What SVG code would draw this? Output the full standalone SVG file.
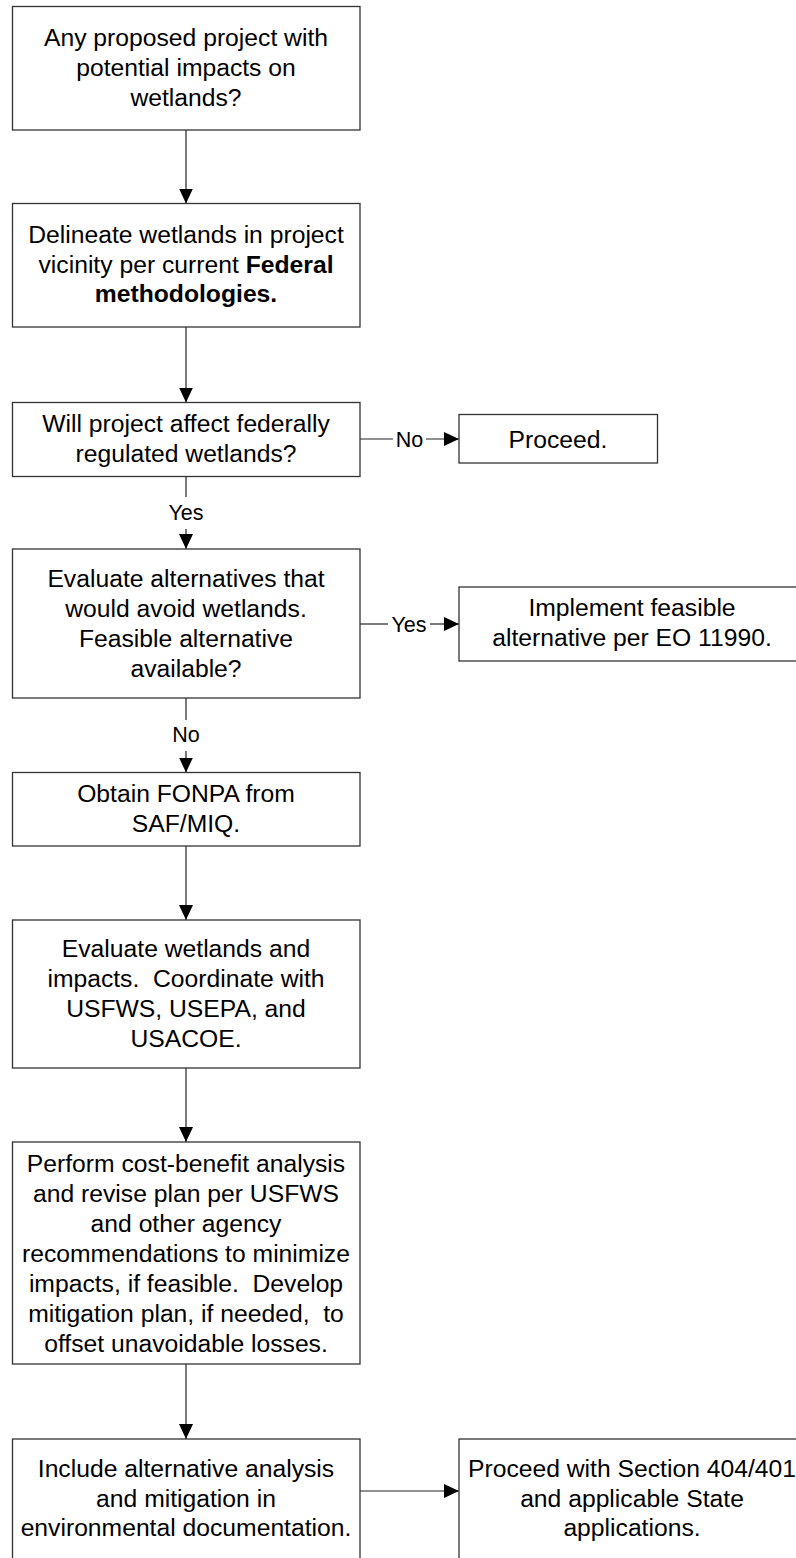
<svg xmlns="http://www.w3.org/2000/svg" width="796" height="1558" viewBox="0 0 796 1558">
<style>
.box{fill:#fff;stroke:#333;stroke-width:1.3}
.t{font-family:"Liberation Sans",Arial,sans-serif;font-size:24.7px;fill:#000;text-anchor:middle;white-space:pre}
.lbl{font-family:"Liberation Sans",Arial,sans-serif;font-size:21.5px;fill:#000;text-anchor:middle}
.b{font-weight:bold}
.c{stroke:#222;stroke-width:1.2;fill:none}
</style>
<defs>
<marker id="ah" markerUnits="userSpaceOnUse" markerWidth="15" markerHeight="14" refX="15" refY="7" orient="auto">
<path d="M0,0 L15,7 L0,14 Z" fill="#000"/>
</marker>
</defs>
<rect width="796" height="1558" fill="#fff"/>
<g id="connectors">
<line class="c" x1="186" y1="130" x2="186" y2="203.5" marker-end="url(#ah)"/>
<line class="c" x1="186" y1="327" x2="186" y2="402.5" marker-end="url(#ah)"/>
<line class="c" x1="360" y1="439" x2="393" y2="439"/>
<line class="c" x1="426" y1="439" x2="459" y2="439" marker-end="url(#ah)"/>
<line class="c" x1="186" y1="476.5" x2="186" y2="497"/>
<line class="c" x1="186" y1="529" x2="186" y2="549" marker-end="url(#ah)"/>
<line class="c" x1="360" y1="624" x2="388" y2="624"/>
<line class="c" x1="430" y1="624" x2="459" y2="624" marker-end="url(#ah)"/>
<line class="c" x1="186" y1="698" x2="186" y2="720"/>
<line class="c" x1="186" y1="751" x2="186" y2="772.5" marker-end="url(#ah)"/>
<line class="c" x1="186" y1="846" x2="186" y2="920" marker-end="url(#ah)"/>
<line class="c" x1="186" y1="1068" x2="186" y2="1142" marker-end="url(#ah)"/>
<line class="c" x1="186" y1="1364" x2="186" y2="1439" marker-end="url(#ah)"/>
<line class="c" x1="360" y1="1491" x2="459" y2="1491" marker-end="url(#ah)"/>
<text class="lbl" x="409.5" y="446.5">No</text>
<text class="lbl" x="186" y="520">Yes</text>
<text class="lbl" x="409" y="631.5">Yes</text>
<text class="lbl" x="186" y="742">No</text>
</g>
<g id="n1">
<rect class="box" x="12.5" y="6.5" width="347.5" height="123.5"/>
<text class="t" x="186" y="46">Any proposed project with</text>
<text class="t" x="186" y="76">potential impacts on</text>
<text class="t" x="186" y="106">wetlands?</text>
</g>
<g id="n2">
<rect class="box" x="12.5" y="203.5" width="347.5" height="123.5"/>
<text class="t" x="186" y="243">Delineate wetlands in project</text>
<text class="t" x="186" y="272.5">vicinity per current <tspan class="b">Federal</tspan></text>
<text class="t b" x="186" y="302">methodologies.</text>
</g>
<g id="n3">
<rect class="box" x="12.5" y="402.5" width="347.5" height="74"/>
<text class="t" x="186" y="431.5">Will project affect federally</text>
<text class="t" x="186" y="461.5">regulated wetlands?</text>
</g>
<g id="n3b">
<rect class="box" x="459" y="414.5" width="198.5" height="48.5"/>
<text class="t" x="558" y="447.5">Proceed.</text>
</g>
<g id="n4">
<rect class="box" x="12.5" y="549" width="347.5" height="149"/>
<text class="t" x="186" y="586.5">Evaluate alternatives that</text>
<text class="t" x="186" y="616.5">would avoid wetlands.</text>
<text class="t" x="186" y="646.5">Feasible alternative</text>
<text class="t" x="186" y="676.5">available?</text>
</g>
<g id="n4b">
<rect class="box" x="459" y="587" width="346" height="74"/>
<text class="t" x="632" y="616">Implement feasible</text>
<text class="t" x="632" y="645.5">alternative per EO 11990.</text>
</g>
<g id="n5">
<rect class="box" x="12.5" y="772.5" width="347.5" height="73.5"/>
<text class="t" x="186" y="802">Obtain FONPA from</text>
<text class="t" x="186" y="831.5">SAF/MIQ.</text>
</g>
<g id="n6">
<rect class="box" x="12.5" y="920" width="347.5" height="148"/>
<text class="t" x="186" y="957">Evaluate wetlands and</text>
<text class="t" x="186" y="987">impacts.  Coordinate with</text>
<text class="t" x="186" y="1017">USFWS, USEPA, and</text>
<text class="t" x="186" y="1047">USACOE.</text>
</g>
<g id="n7">
<rect class="box" x="12.5" y="1142" width="347.5" height="222"/>
<text class="t" x="186" y="1171.5">Perform cost-benefit analysis</text>
<text class="t" x="186" y="1201.5">and revise plan per USFWS</text>
<text class="t" x="186" y="1231.5">and other agency</text>
<text class="t" x="186" y="1261.5">recommendations to minimize</text>
<text class="t" x="186" y="1291.5">impacts, if feasible.  Develop</text>
<text class="t" x="186" y="1321.5">mitigation plan, if needed,  to</text>
<text class="t" x="186" y="1351.5">offset unavoidable losses.</text>
</g>
<g id="n8">
<rect class="box" x="12.5" y="1439" width="347.5" height="140"/>
<text class="t" x="186" y="1477">Include alternative analysis</text>
<text class="t" x="186" y="1507">and mitigation in</text>
<text class="t" x="186" y="1536">environmental documentation.</text>
</g>
<g id="n9">
<rect class="box" x="459" y="1439" width="346" height="140"/>
<text class="t" x="632" y="1477">Proceed with Section 404/401</text>
<text class="t" x="632" y="1507">and applicable State</text>
<text class="t" x="632" y="1536">applications.</text>
</g>
</svg>
